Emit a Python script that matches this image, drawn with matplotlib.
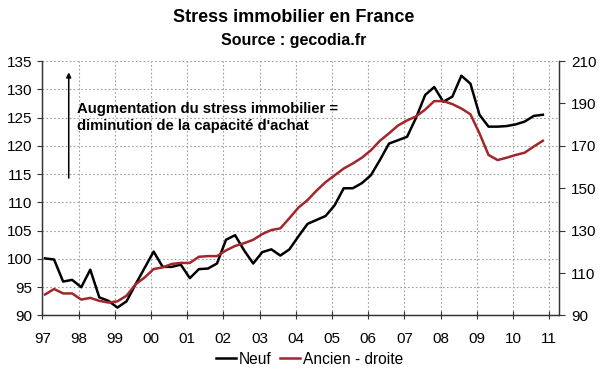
import numpy as np
import matplotlib
matplotlib.use("Agg")
import matplotlib.pyplot as plt

plt.rcParams['font.family'] = ['Liberation Sans', 'DejaVu Sans']

# Quarterly data 1997Q1 .. 2010Q4
start_year = 1997
n_quarters = 56
neuf = [100.1, 99.9, 96.0, 96.3, 95.0, 98.1, 93.2, 92.6,
        91.4, 92.5, 95.5, 98.4, 101.3, 98.6, 98.6, 99.0,
        96.6, 98.2, 98.3, 99.2, 103.4, 104.2, 101.5, 99.2,
        101.2, 101.7, 100.6, 101.7, 104.0, 106.2, 106.9, 107.6,
        109.5, 112.5, 112.5, 113.4, 114.8, 117.5, 120.4, 121.0,
        121.6, 125.0, 129.0, 130.4, 127.8, 128.7, 132.4, 131.0,
        125.5, 123.4, 123.4, 123.5, 123.8, 124.3, 125.3, 125.5]
ancien = [99.9, 102.5, 100.4, 100.4, 97.5, 98.3, 96.9, 96.1,
          96.7, 99.3, 104.7, 107.9, 111.9, 112.7, 114.3, 114.8,
          114.8, 117.7, 118.0, 118.0, 120.7, 122.8, 124.1, 125.7,
          128.4, 130.3, 131.1, 135.9, 140.9, 144.4, 148.9, 152.9,
          156.1, 159.3, 161.7, 164.4, 167.9, 172.4, 175.9, 179.6,
          182.0, 183.9, 187.1, 191.1, 191.1, 189.7, 187.6, 184.9,
          175.9, 165.7, 163.3, 164.4, 165.7, 166.8, 169.7, 172.4]
year_ticks = list(range(1997, 2012))
year_labels = ['97', '98', '99', '00', '01', '02', '03', '04', '05', '06',
               '07', '08', '09', '10', '11']
left_ticks = [90, 95, 100, 105, 110, 115, 120, 125, 130, 135]
right_ticks = [90, 110, 130, 150, 170, 190, 210]

dates = start_year + 0.075 + np.arange(n_quarters) / 4.0

fig = plt.figure(figsize=(6.0, 3.72), dpi=100)
ax = fig.add_axes([0.0705, 0.1519, 0.8617, 0.684])
ax2 = ax.twinx()

ax.plot(dates, neuf, color='black', lw=1.8, zorder=4, label='Neuf')
ax2.plot(dates, ancien, color='#A3262A', lw=1.8, zorder=3, label='Ancien - droite')

ax.set_xlim(1997, 2011.28)
ax.set_ylim(90, 135)
ax2.set_ylim(90, 210)

ax.set_xticks(year_ticks)
ax.set_xticklabels(year_labels)
ax.set_yticks(left_ticks)
ax2.set_yticks(right_ticks)

grid_kw = dict(color='#a0a0a0', lw=0.8, linestyle=(0, (1.5, 2)))
ax.grid(True, axis='both', **grid_kw)
ax.set_axisbelow(True)

for a in (ax, ax2):
    a.spines['top'].set_visible(False)
    for s in ('left', 'right', 'bottom'):
        a.spines[s].set_color('#333333')
        a.spines[s].set_linewidth(0.9)

ax.tick_params(axis='x', direction='inout', length=6, width=0.8, pad=9,
               labelsize=11, colors='#333333', labelcolor='black')
ax.tick_params(axis='y', direction='out', length=3.5, width=0.8, pad=4,
               labelsize=11, colors='#333333', labelcolor='black')
ax2.tick_params(axis='y', direction='out', length=4.5, width=0.8, pad=4,
                labelsize=11, colors='#333333', labelcolor='black')

# annotation arrow and text
ax.annotate('', xy=(1997.73, 133.0), xytext=(1997.73, 114.3),
            arrowprops=dict(arrowstyle='-|>', lw=1.1, color='black',
                            mutation_scale=7, shrinkA=0, shrinkB=0))
ax.text(1997.97, 125.0, "Augmentation du stress immobilier =\ndiminution de la capacité d'achat",
        fontsize=10.7, fontweight='bold', ha='left', va='center',
        linespacing=1.25, zorder=5)

fig.text(0.49, 1 - 18 / 372, 'Stress immobilier en France', ha='center', va='center',
         fontsize=13, fontweight='bold')
fig.text(0.49, 1 - 41 / 372, 'Source : gecodia.fr', ha='center', va='center',
         fontsize=11.5, fontweight='bold')

h1, l1 = ax.get_legend_handles_labels()
h2, l2 = ax2.get_legend_handles_labels()
fig.legend(h1 + h2, l1 + l2, loc='center', bbox_to_anchor=(0.516, 1 - 359 / 372),
           ncol=2, frameon=False, fontsize=11.2, handlelength=1.3,
           handletextpad=0.2, columnspacing=0.5, borderpad=0)

fig.savefig('out.png', dpi=100)
